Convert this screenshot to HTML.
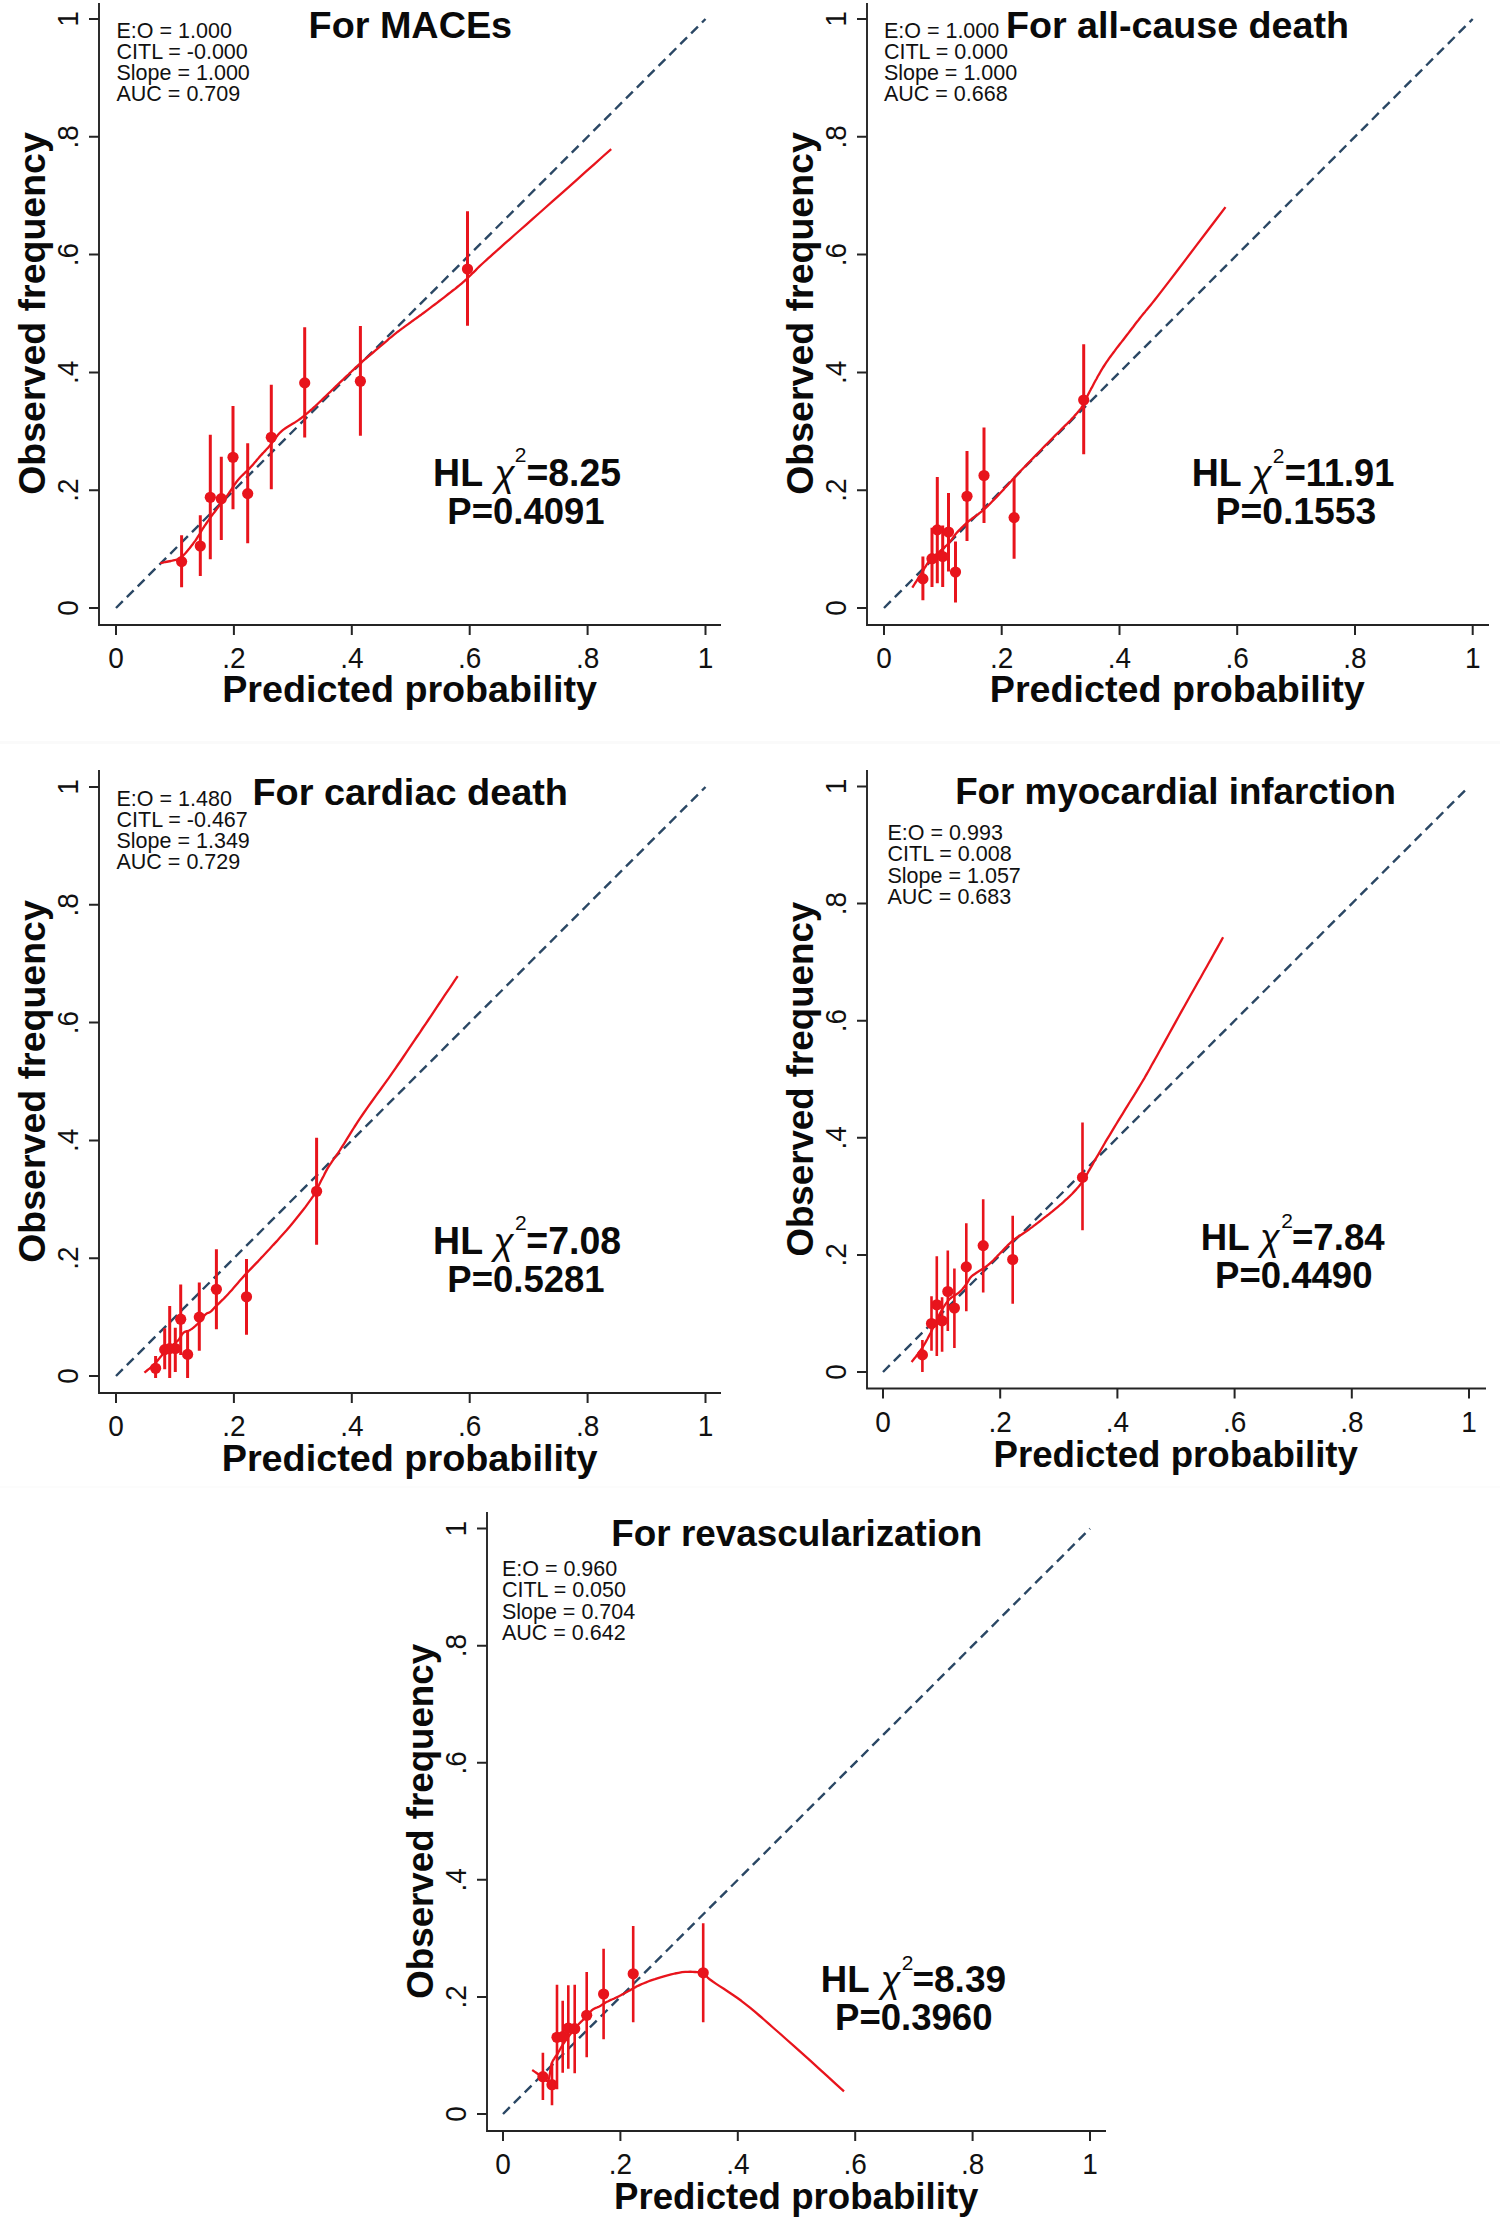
<!DOCTYPE html><html><head><meta charset="utf-8"><style>html,body{margin:0;padding:0;background:#fff;width:1500px;height:2220px;overflow:hidden}svg{display:block}</style></head><body>
<svg width="1500" height="2220" viewBox="0 0 1500 2220" font-family='"Liberation Sans", sans-serif'>
<rect width="1500" height="2220" fill="#fff"/>
<rect x="0" y="741" width="1500" height="3" fill="#fafafa"/>
<rect x="0" y="1486" width="1500" height="2" fill="#fcfcfc"/>
<g><path d="M99 3 V625 H721" fill="none" stroke="#242424" stroke-width="1.9"/><path d="M89 608H99M116 625V635M89 490.2H99M233.9 625V635M89 372.4H99M351.8 625V635M89 254.6H99M469.7 625V635M89 136.8H99M587.6 625V635M89 19H99M705.5 625V635" stroke="#242424" stroke-width="2"/><text transform="translate(116 668) scale(1 1.08)" font-size="28" text-anchor="middle" fill="#111">0</text><text transform="translate(78 608) rotate(-90) scale(1 1.08)" font-size="28" text-anchor="middle" fill="#111">0</text><text transform="translate(233.9 668) scale(1 1.08)" font-size="28" text-anchor="middle" fill="#111">.2</text><text transform="translate(78 490.2) rotate(-90) scale(1 1.08)" font-size="28" text-anchor="middle" fill="#111">.2</text><text transform="translate(351.8 668) scale(1 1.08)" font-size="28" text-anchor="middle" fill="#111">.4</text><text transform="translate(78 372.4) rotate(-90) scale(1 1.08)" font-size="28" text-anchor="middle" fill="#111">.4</text><text transform="translate(469.7 668) scale(1 1.08)" font-size="28" text-anchor="middle" fill="#111">.6</text><text transform="translate(78 254.6) rotate(-90) scale(1 1.08)" font-size="28" text-anchor="middle" fill="#111">.6</text><text transform="translate(587.6 668) scale(1 1.08)" font-size="28" text-anchor="middle" fill="#111">.8</text><text transform="translate(78 136.8) rotate(-90) scale(1 1.08)" font-size="28" text-anchor="middle" fill="#111">.8</text><text transform="translate(705.5 668) scale(1 1.08)" font-size="28" text-anchor="middle" fill="#111">1</text><text transform="translate(78 19) rotate(-90) scale(1 1.08)" font-size="28" text-anchor="middle" fill="#111">1</text><text transform="translate(44.7 313.5) rotate(-90)" font-size="37.5" font-weight="bold" text-anchor="middle" fill="#0a0a0a">Observed frequency</text><text x="222.2" y="702.4" font-size="37.6" font-weight="bold" textLength="374.8" lengthAdjust="spacingAndGlyphs" fill="#0a0a0a">Predicted probability</text><text x="308.6" y="37.6" font-size="37.4" font-weight="bold" textLength="203.5" lengthAdjust="spacingAndGlyphs" fill="#0a0a0a">For MACEs</text><text x="116.5" y="37.7" font-size="21.5" fill="#111">E:O = 1.000</text><text x="116.5" y="58.9" font-size="21.5" fill="#111">CITL = -0.000</text><text x="116.5" y="80.1" font-size="21.5" fill="#111">Slope = 1.000</text><text x="116.5" y="101.3" font-size="21.5" fill="#111">AUC = 0.709</text><line x1="116" y1="608" x2="705.5" y2="19" stroke="#2a4764" stroke-width="2.4" stroke-dasharray="9.6 5.74"/><path d="M160.3 563.1 L162.8 562.6 L165.4 562.0 L168.2 561.5 L170.9 561.0 L173.4 560.4 L175.7 559.9 L177.7 559.3 L179.3 558.7 L179.8 558.4 L180.3 558.2 L180.6 558.0 L180.9 557.7 L181.2 557.5 L181.5 557.2 L181.9 556.9 L182.3 556.5 L183.2 555.6 L184.2 554.5 L185.4 553.3 L186.5 551.9 L187.7 550.5 L188.9 549.1 L190.0 547.7 L191.1 546.3 L192.1 545.0 L193.1 543.7 L194.0 542.4 L195.0 541.1 L195.9 539.8 L196.8 538.5 L197.6 537.2 L198.4 536.0 L199.0 535.0 L199.6 534.1 L200.1 533.3 L200.6 532.4 L201.1 531.5 L201.6 530.6 L202.2 529.7 L202.8 528.7 L203.7 527.3 L204.6 525.9 L205.6 524.5 L206.6 523.0 L207.7 521.4 L208.8 519.9 L209.8 518.4 L210.9 516.9 L212.0 515.4 L213.1 513.9 L214.2 512.5 L215.3 511.0 L216.4 509.5 L217.5 508.1 L218.6 506.6 L219.7 505.2 L220.7 503.9 L221.7 502.6 L222.7 501.4 L223.7 500.1 L224.7 498.9 L225.7 497.6 L226.7 496.3 L227.7 494.9 L228.9 493.2 L230.1 491.3 L231.4 489.5 L232.6 487.5 L233.9 485.6 L235.2 483.7 L236.6 481.8 L238.0 480.0 L239.5 478.3 L241.1 476.5 L242.8 474.9 L244.5 473.2 L246.2 471.6 L247.9 470.0 L249.5 468.4 L251.0 466.8 L252.3 465.4 L253.5 464.0 L254.7 462.6 L255.9 461.2 L257.0 459.8 L258.2 458.5 L259.3 457.1 L260.5 455.8 L261.6 454.6 L262.7 453.4 L263.8 452.3 L264.9 451.1 L265.9 450.0 L267.0 448.8 L268.2 447.6 L269.3 446.3 L270.7 444.6 L272.0 442.8 L273.4 440.9 L274.8 438.9 L276.3 437.0 L277.8 435.1 L279.4 433.3 L281.1 431.6 L283.1 429.9 L285.4 428.3 L287.7 426.7 L290.2 425.2 L292.6 423.7 L294.9 422.4 L296.9 421.1 L298.7 419.9 L299.6 419.3 L300.3 418.7 L301.0 418.2 L301.7 417.7 L302.3 417.2 L303.0 416.7 L303.7 416.1 L304.5 415.5 L305.8 414.4 L307.3 413.2 L308.8 411.9 L310.3 410.5 L312.0 409.1 L313.6 407.6 L315.3 406.1 L317.0 404.5 L319.1 402.5 L321.4 400.4 L323.7 398.1 L326.1 395.8 L328.4 393.5 L330.8 391.3 L333.1 389.0 L335.3 386.9 L337.2 385.0 L339.2 383.2 L341.1 381.4 L343.0 379.6 L344.8 377.8 L346.6 376.1 L348.4 374.5 L350.0 372.9 L351.2 371.8 L352.2 370.8 L353.3 369.8 L354.3 368.9 L355.3 367.9 L356.3 366.9 L357.5 365.9 L358.7 364.8 L360.7 363.1 L362.8 361.2 L365.1 359.2 L367.5 357.2 L370.0 355.1 L372.5 353.0 L374.9 350.9 L377.3 348.9 L379.6 346.9 L382.0 344.9 L384.4 342.8 L386.8 340.8 L389.1 338.7 L391.5 336.8 L393.8 334.9 L396.0 333.1 L397.8 331.7 L399.6 330.4 L401.3 329.1 L403.0 327.9 L404.7 326.6 L406.4 325.4 L408.2 324.1 L410.0 322.8 L412.1 321.2 L414.3 319.6 L416.6 318.0 L418.9 316.3 L421.2 314.7 L423.5 313.0 L425.7 311.3 L428.0 309.6 L430.3 307.9 L432.5 306.2 L434.8 304.5 L437.0 302.8 L439.3 301.0 L441.5 299.3 L443.8 297.6 L446.0 295.8 L448.3 294.0 L450.5 292.3 L452.8 290.5 L455.1 288.8 L457.3 287.0 L459.6 285.2 L461.8 283.3 L464.0 281.4 L466.3 279.3 L468.5 277.2 L470.8 275.0 L473.0 272.8 L475.3 270.6 L477.5 268.3 L479.7 266.1 L482.0 264.0 L484.2 262.0 L486.3 260.1 L488.4 258.2 L490.5 256.3 L492.6 254.4 L494.9 252.3 L497.4 250.2 L500.0 247.8 L504.6 243.7 L509.6 239.3 L515.0 234.5 L520.7 229.5 L526.6 224.3 L532.7 218.9 L538.8 213.5 L545.0 208.0 L552.7 201.2 L560.7 194.1 L568.9 186.8 L577.3 179.3 L585.8 171.7 L594.4 164.1 L602.8 156.5 L611.2 149.1" fill="none" stroke="#e8141c" stroke-width="2.3" stroke-linejoin="round"/><path d="M181.6 535.3V587.3M200.3 515.3V576M210.3 434.7V559.3M221.3 456.7V540M233 406V509.3M247.7 443.3V543.3M271.3 384.7V489.3M304.7 327.2V437.6M360.4 326V435.7M467.5 211.3V325.8" stroke="#e8141c" stroke-width="3"/><circle cx="181.6" cy="561.6" r="5.6" fill="#e8141c"/><circle cx="200.3" cy="546" r="5.6" fill="#e8141c"/><circle cx="210.3" cy="497.3" r="5.6" fill="#e8141c"/><circle cx="221.3" cy="498.7" r="5.6" fill="#e8141c"/><circle cx="233" cy="457.3" r="5.6" fill="#e8141c"/><circle cx="247.7" cy="493.6" r="5.6" fill="#e8141c"/><circle cx="271.3" cy="437.3" r="5.6" fill="#e8141c"/><circle cx="304.7" cy="382.9" r="5.6" fill="#e8141c"/><circle cx="360.4" cy="381.2" r="5.6" fill="#e8141c"/><circle cx="467.5" cy="269" r="5.6" fill="#e8141c"/><text transform="translate(433.1 486.2) scale(1 1.03)" font-size="37.5" font-weight="bold" fill="#0a0a0a">HL</text><text x="494.6" y="486.2" font-size="37" font-style="italic" fill="#0a0a0a">&#967;</text><text x="514.8" y="462" font-size="21" fill="#0a0a0a">2</text><text transform="translate(526.5 486.2) scale(1 1.03)" font-size="37.5" font-weight="bold" textLength="94.6" lengthAdjust="spacingAndGlyphs" fill="#0a0a0a">=8.25</text><text transform="translate(447.3 523.9) scale(1 1.03)" font-size="36.5" font-weight="bold" textLength="157.3" lengthAdjust="spacingAndGlyphs" fill="#0a0a0a">P=0.4091</text></g>
<g><path d="M867 3 V625 H1489" fill="none" stroke="#242424" stroke-width="1.9"/><path d="M857 608H867M884 625V635M857 490.2H867M1001.7 625V635M857 372.4H867M1119.5 625V635M857 254.6H867M1237.2 625V635M857 136.8H867M1355 625V635M857 19H867M1472.7 625V635" stroke="#242424" stroke-width="2"/><text transform="translate(884 668) scale(1 1.08)" font-size="28" text-anchor="middle" fill="#111">0</text><text transform="translate(846 608) rotate(-90) scale(1 1.08)" font-size="28" text-anchor="middle" fill="#111">0</text><text transform="translate(1001.7 668) scale(1 1.08)" font-size="28" text-anchor="middle" fill="#111">.2</text><text transform="translate(846 490.2) rotate(-90) scale(1 1.08)" font-size="28" text-anchor="middle" fill="#111">.2</text><text transform="translate(1119.5 668) scale(1 1.08)" font-size="28" text-anchor="middle" fill="#111">.4</text><text transform="translate(846 372.4) rotate(-90) scale(1 1.08)" font-size="28" text-anchor="middle" fill="#111">.4</text><text transform="translate(1237.2 668) scale(1 1.08)" font-size="28" text-anchor="middle" fill="#111">.6</text><text transform="translate(846 254.6) rotate(-90) scale(1 1.08)" font-size="28" text-anchor="middle" fill="#111">.6</text><text transform="translate(1355 668) scale(1 1.08)" font-size="28" text-anchor="middle" fill="#111">.8</text><text transform="translate(846 136.8) rotate(-90) scale(1 1.08)" font-size="28" text-anchor="middle" fill="#111">.8</text><text transform="translate(1472.7 668) scale(1 1.08)" font-size="28" text-anchor="middle" fill="#111">1</text><text transform="translate(846 19) rotate(-90) scale(1 1.08)" font-size="28" text-anchor="middle" fill="#111">1</text><text transform="translate(812.7 313.5) rotate(-90)" font-size="37.5" font-weight="bold" text-anchor="middle" fill="#0a0a0a">Observed frequency</text><text x="989.8" y="702.4" font-size="37.6" font-weight="bold" textLength="375.0" lengthAdjust="spacingAndGlyphs" fill="#0a0a0a">Predicted probability</text><text x="1006" y="37.6" font-size="37.4" font-weight="bold" textLength="343.0" lengthAdjust="spacingAndGlyphs" fill="#0a0a0a">For all-cause death</text><text x="883.9" y="37.7" font-size="21.5" fill="#111">E:O = 1.000</text><text x="883.9" y="58.9" font-size="21.5" fill="#111">CITL = 0.000</text><text x="883.9" y="80.1" font-size="21.5" fill="#111">Slope = 1.000</text><text x="883.9" y="101.3" font-size="21.5" fill="#111">AUC = 0.668</text><line x1="884" y1="608" x2="1472.7" y2="19" stroke="#2a4764" stroke-width="2.4" stroke-dasharray="9.6 5.74"/><path d="M912.3 587.6 L913.6 585.6 L914.9 583.5 L916.3 581.4 L917.6 579.3 L918.9 577.3 L920.2 575.3 L921.4 573.3 L922.6 571.5 L923.5 570.1 L924.2 568.8 L924.9 567.5 L925.7 566.3 L926.4 565.1 L927.2 563.8 L928.1 562.5 L929.2 561.2 L931.2 559.1 L933.6 556.8 L936.2 554.4 L939.0 552.0 L941.8 549.6 L944.5 547.2 L947.0 545.0 L949.0 542.9 L950.1 541.6 L951.1 540.4 L952.0 539.1 L952.8 538.0 L953.6 536.8 L954.4 535.7 L955.3 534.5 L956.3 533.3 L957.6 531.9 L959.0 530.4 L960.5 528.9 L962.0 527.3 L963.5 525.9 L964.9 524.5 L966.2 523.3 L967.3 522.3 L967.8 521.8 L968.3 521.5 L968.7 521.1 L969.1 520.8 L969.5 520.5 L970.0 520.2 L970.4 519.8 L971.0 519.4 L972.2 518.5 L973.6 517.5 L975.1 516.4 L976.7 515.2 L978.4 514.0 L980.1 512.7 L981.8 511.3 L983.5 509.9 L985.5 508.1 L987.6 506.1 L989.8 504.0 L991.9 501.8 L994.0 499.6 L996.2 497.4 L998.3 495.1 L1000.3 493.0 L1002.2 491.0 L1004.0 489.1 L1005.7 487.1 L1007.5 485.2 L1009.2 483.2 L1011.1 481.2 L1013.0 479.1 L1015.0 476.9 L1017.8 473.9 L1020.8 470.8 L1024.0 467.5 L1027.2 464.1 L1030.5 460.7 L1033.8 457.4 L1037.0 454.1 L1040.0 451.0 L1042.6 448.3 L1045.2 445.6 L1047.8 443.0 L1050.4 440.4 L1052.9 437.9 L1055.3 435.4 L1057.7 433.0 L1060.0 430.7 L1061.8 428.9 L1063.6 427.1 L1065.3 425.4 L1067.0 423.8 L1068.7 422.1 L1070.3 420.5 L1071.8 418.9 L1073.3 417.3 L1074.5 415.9 L1075.7 414.6 L1076.9 413.3 L1078.0 412.0 L1079.0 410.8 L1080.1 409.4 L1081.1 408.1 L1082.0 406.7 L1082.9 405.3 L1083.7 403.8 L1084.5 402.3 L1085.2 400.7 L1085.9 399.2 L1086.6 397.7 L1087.3 396.2 L1088.0 394.7 L1088.7 393.4 L1089.3 392.2 L1089.9 391.0 L1090.6 389.8 L1091.2 388.6 L1091.9 387.4 L1092.6 386.1 L1093.3 384.7 L1094.3 382.8 L1095.4 380.8 L1096.6 378.7 L1097.7 376.5 L1099.0 374.4 L1100.2 372.2 L1101.4 370.1 L1102.7 368.0 L1104.0 366.0 L1105.2 364.1 L1106.5 362.2 L1107.8 360.3 L1109.1 358.4 L1110.5 356.5 L1111.9 354.6 L1113.3 352.7 L1114.9 350.6 L1116.5 348.4 L1118.2 346.2 L1119.9 344.0 L1121.6 341.9 L1123.3 339.7 L1125.0 337.5 L1126.7 335.3 L1128.4 333.1 L1130.0 331.0 L1131.7 328.8 L1133.3 326.7 L1134.9 324.5 L1136.6 322.3 L1138.3 320.2 L1140.0 318.0 L1141.7 315.9 L1143.4 313.8 L1145.0 311.9 L1146.6 309.9 L1148.4 307.8 L1150.3 305.5 L1152.4 302.9 L1154.7 300.0 L1161.0 291.9 L1168.7 281.9 L1177.4 270.5 L1186.8 258.1 L1196.6 245.1 L1206.6 232.0 L1216.3 219.2 L1225.5 207.1" fill="none" stroke="#e8141c" stroke-width="2.3" stroke-linejoin="round"/><path d="M922.9 556.5V600.3M932 527.7V587M937.3 477V583.2M942.7 525.6V587M948.5 493V571.5M955.5 541.6V602.4M967 451V541M984 427.5V523M1014.1 478.1V558.7M1083.7 344.3V454.3" stroke="#e8141c" stroke-width="3"/><circle cx="922.9" cy="578.9" r="5.6" fill="#e8141c"/><circle cx="932" cy="558.7" r="5.6" fill="#e8141c"/><circle cx="937.3" cy="529.9" r="5.6" fill="#e8141c"/><circle cx="942.7" cy="556.5" r="5.6" fill="#e8141c"/><circle cx="948.5" cy="532" r="5.6" fill="#e8141c"/><circle cx="955.5" cy="572" r="5.6" fill="#e8141c"/><circle cx="967" cy="496.3" r="5.6" fill="#e8141c"/><circle cx="984" cy="475.5" r="5.6" fill="#e8141c"/><circle cx="1014.1" cy="517.6" r="5.6" fill="#e8141c"/><circle cx="1083.7" cy="400" r="5.6" fill="#e8141c"/><text transform="translate(1191.7 486.4) scale(1 1.03)" font-size="37.5" font-weight="bold" fill="#0a0a0a">HL</text><text x="1251.6" y="486.4" font-size="37" font-style="italic" fill="#0a0a0a">&#967;</text><text x="1272.8" y="462.8" font-size="21" fill="#0a0a0a">2</text><text transform="translate(1284.7 486.4) scale(1 1.03)" font-size="37.5" font-weight="bold" textLength="109.6" lengthAdjust="spacingAndGlyphs" fill="#0a0a0a">=11.91</text><text transform="translate(1215.6 523.5) scale(1 1.03)" font-size="36.5" font-weight="bold" textLength="160.7" lengthAdjust="spacingAndGlyphs" fill="#0a0a0a">P=0.1553</text></g>
<g><path d="M99 770 V1393 H721" fill="none" stroke="#242424" stroke-width="1.9"/><path d="M89 1376H99M116 1393V1403M89 1258.2H99M233.9 1393V1403M89 1140.4H99M351.8 1393V1403M89 1022.6H99M469.7 1393V1403M89 904.8H99M587.6 1393V1403M89 787H99M705.5 1393V1403" stroke="#242424" stroke-width="2"/><text transform="translate(116 1436) scale(1 1.08)" font-size="28" text-anchor="middle" fill="#111">0</text><text transform="translate(78 1376) rotate(-90) scale(1 1.08)" font-size="28" text-anchor="middle" fill="#111">0</text><text transform="translate(233.9 1436) scale(1 1.08)" font-size="28" text-anchor="middle" fill="#111">.2</text><text transform="translate(78 1258.2) rotate(-90) scale(1 1.08)" font-size="28" text-anchor="middle" fill="#111">.2</text><text transform="translate(351.8 1436) scale(1 1.08)" font-size="28" text-anchor="middle" fill="#111">.4</text><text transform="translate(78 1140.4) rotate(-90) scale(1 1.08)" font-size="28" text-anchor="middle" fill="#111">.4</text><text transform="translate(469.7 1436) scale(1 1.08)" font-size="28" text-anchor="middle" fill="#111">.6</text><text transform="translate(78 1022.6) rotate(-90) scale(1 1.08)" font-size="28" text-anchor="middle" fill="#111">.6</text><text transform="translate(587.6 1436) scale(1 1.08)" font-size="28" text-anchor="middle" fill="#111">.8</text><text transform="translate(78 904.8) rotate(-90) scale(1 1.08)" font-size="28" text-anchor="middle" fill="#111">.8</text><text transform="translate(705.5 1436) scale(1 1.08)" font-size="28" text-anchor="middle" fill="#111">1</text><text transform="translate(78 787) rotate(-90) scale(1 1.08)" font-size="28" text-anchor="middle" fill="#111">1</text><text transform="translate(44.7 1081.5) rotate(-90)" font-size="37.5" font-weight="bold" text-anchor="middle" fill="#0a0a0a">Observed frequency</text><text x="221.7" y="1470.6" font-size="37.6" font-weight="bold" textLength="375.8" lengthAdjust="spacingAndGlyphs" fill="#0a0a0a">Predicted probability</text><text x="252.4" y="805.4" font-size="37.4" font-weight="bold" textLength="315.6" lengthAdjust="spacingAndGlyphs" fill="#0a0a0a">For cardiac death</text><text x="116.5" y="805.5" font-size="21.5" fill="#111">E:O = 1.480</text><text x="116.5" y="826.7" font-size="21.5" fill="#111">CITL = -0.467</text><text x="116.5" y="847.9" font-size="21.5" fill="#111">Slope = 1.349</text><text x="116.5" y="869.1" font-size="21.5" fill="#111">AUC = 0.729</text><line x1="116" y1="1376" x2="705.5" y2="787" stroke="#2a4764" stroke-width="2.4" stroke-dasharray="9.6 5.74"/><path d="M144.4 1372.7 L145.7 1371.6 L147.0 1370.5 L148.4 1369.4 L149.7 1368.4 L151.0 1367.3 L152.3 1366.2 L153.5 1365.0 L154.7 1363.9 L155.7 1362.8 L156.7 1361.7 L157.6 1360.6 L158.4 1359.5 L159.3 1358.4 L160.2 1357.2 L161.1 1356.2 L162.0 1355.1 L163.0 1354.1 L163.9 1353.1 L164.9 1352.2 L165.9 1351.2 L166.9 1350.3 L168.0 1349.3 L169.0 1348.4 L170.0 1347.5 L171.0 1346.6 L172.1 1345.7 L173.1 1344.9 L174.2 1344.0 L175.2 1343.1 L176.2 1342.3 L177.2 1341.3 L178.1 1340.4 L178.9 1339.4 L179.7 1338.3 L180.4 1337.2 L181.1 1336.1 L181.7 1335.0 L182.4 1333.9 L183.2 1333.0 L184.0 1332.3 L184.7 1331.9 L185.4 1331.6 L186.1 1331.3 L186.8 1331.1 L187.6 1331.0 L188.4 1330.8 L189.1 1330.5 L189.9 1330.1 L191.0 1329.4 L192.1 1328.7 L193.2 1327.8 L194.3 1326.9 L195.5 1325.9 L196.6 1324.8 L197.7 1323.8 L198.7 1322.8 L199.7 1321.7 L200.6 1320.6 L201.6 1319.3 L202.5 1318.1 L203.4 1316.9 L204.3 1315.8 L205.1 1314.8 L206.0 1314.0 L206.6 1313.6 L207.1 1313.3 L207.7 1313.0 L208.2 1312.8 L208.8 1312.6 L209.3 1312.4 L209.9 1312.1 L210.4 1311.8 L211.0 1311.4 L211.5 1310.9 L212.0 1310.4 L212.5 1309.9 L213.0 1309.3 L213.5 1308.7 L214.1 1308.1 L214.8 1307.4 L216.1 1306.1 L217.6 1304.7 L219.2 1303.1 L220.9 1301.4 L222.7 1299.7 L224.5 1297.9 L226.3 1296.0 L228.0 1294.2 L229.9 1292.1 L231.9 1289.9 L233.9 1287.6 L235.9 1285.3 L237.9 1283.0 L239.9 1280.6 L242.0 1278.2 L244.1 1275.9 L246.4 1273.4 L248.7 1271.0 L251.0 1268.6 L253.4 1266.1 L255.8 1263.6 L258.3 1261.1 L260.7 1258.4 L263.3 1255.7 L266.5 1252.3 L269.8 1248.8 L273.1 1245.1 L276.6 1241.4 L280.0 1237.6 L283.4 1233.8 L286.8 1230.0 L290.0 1226.2 L293.1 1222.4 L296.3 1218.5 L299.5 1214.5 L302.7 1210.5 L305.7 1206.6 L308.4 1202.9 L310.9 1199.4 L313.0 1196.3 L314.0 1194.7 L314.9 1193.2 L315.6 1191.8 L316.3 1190.4 L317.0 1189.1 L317.6 1187.7 L318.3 1186.3 L319.1 1184.8 L320.1 1182.8 L321.2 1180.6 L322.3 1178.4 L323.5 1176.2 L324.6 1173.9 L325.8 1171.6 L327.0 1169.4 L328.3 1167.2 L329.6 1165.1 L331.0 1163.1 L332.3 1161.1 L333.7 1159.1 L335.2 1157.1 L336.7 1155.0 L338.2 1152.8 L339.8 1150.4 L342.0 1146.9 L344.3 1143.3 L346.7 1139.4 L349.2 1135.4 L351.8 1131.2 L354.4 1127.0 L357.2 1122.7 L360.0 1118.4 L363.7 1113.0 L367.6 1107.4 L371.8 1101.5 L376.0 1095.6 L380.3 1089.7 L384.5 1083.9 L388.5 1078.3 L392.3 1072.9 L395.3 1068.6 L398.1 1064.5 L400.9 1060.5 L403.6 1056.5 L406.2 1052.6 L408.9 1048.7 L411.6 1044.7 L414.3 1040.7 L417.1 1036.5 L420.0 1032.3 L422.8 1028.0 L425.7 1023.8 L428.6 1019.5 L431.4 1015.3 L434.2 1011.1 L437.0 1006.9 L439.6 1003.0 L442.2 999.1 L444.8 995.2 L447.4 991.4 L450.0 987.6 L452.5 983.8 L455.1 979.9 L457.7 976.1" fill="none" stroke="#e8141c" stroke-width="2.3" stroke-linejoin="round"/><path d="M155.6 1356V1377.9M164.7 1328.3V1369.3M169.7 1305.9V1377.9M175.3 1327.7V1372M180.7 1284.5V1355M187.6 1330.4V1377.9M199.3 1282.4V1350.7M216.4 1249.3V1329.3M246.5 1258.9V1334.7M316.6 1137.7V1244.8" stroke="#e8141c" stroke-width="3"/><circle cx="155.6" cy="1368.3" r="5.6" fill="#e8141c"/><circle cx="164.7" cy="1349.6" r="5.6" fill="#e8141c"/><circle cx="169.7" cy="1348.5" r="5.6" fill="#e8141c"/><circle cx="175.3" cy="1348.5" r="5.6" fill="#e8141c"/><circle cx="180.7" cy="1319.2" r="5.6" fill="#e8141c"/><circle cx="187.6" cy="1354.4" r="5.6" fill="#e8141c"/><circle cx="199.3" cy="1317.1" r="5.6" fill="#e8141c"/><circle cx="216.4" cy="1289.3" r="5.6" fill="#e8141c"/><circle cx="246.5" cy="1296.8" r="5.6" fill="#e8141c"/><circle cx="316.6" cy="1191.3" r="5.6" fill="#e8141c"/><text transform="translate(433.1 1253.5) scale(1 1.03)" font-size="37.5" font-weight="bold" fill="#0a0a0a">HL</text><text x="493.6" y="1253.5" font-size="37" font-style="italic" fill="#0a0a0a">&#967;</text><text x="515" y="1230.4" font-size="21" fill="#0a0a0a">2</text><text transform="translate(526.3 1253.5) scale(1 1.03)" font-size="37.5" font-weight="bold" textLength="94.8" lengthAdjust="spacingAndGlyphs" fill="#0a0a0a">=7.08</text><text transform="translate(447.3 1291.7) scale(1 1.03)" font-size="36.5" font-weight="bold" textLength="157.3" lengthAdjust="spacingAndGlyphs" fill="#0a0a0a">P=0.5281</text></g>
<g><path d="M867 770 V1388.5 H1486" fill="none" stroke="#242424" stroke-width="1.9"/><path d="M857 1372H867M883 1388.5V1398.5M857 1254.9H867M1000.2 1388.5V1398.5M857 1137.8H867M1117.4 1388.5V1398.5M857 1020.7H867M1234.6 1388.5V1398.5M857 903.6H867M1351.8 1388.5V1398.5M857 786.5H867M1469 1388.5V1398.5" stroke="#242424" stroke-width="2"/><text transform="translate(883 1431.5) scale(1 1.08)" font-size="28" text-anchor="middle" fill="#111">0</text><text transform="translate(846 1372) rotate(-90) scale(1 1.08)" font-size="28" text-anchor="middle" fill="#111">0</text><text transform="translate(1000.2 1431.5) scale(1 1.08)" font-size="28" text-anchor="middle" fill="#111">.2</text><text transform="translate(846 1254.9) rotate(-90) scale(1 1.08)" font-size="28" text-anchor="middle" fill="#111">.2</text><text transform="translate(1117.4 1431.5) scale(1 1.08)" font-size="28" text-anchor="middle" fill="#111">.4</text><text transform="translate(846 1137.8) rotate(-90) scale(1 1.08)" font-size="28" text-anchor="middle" fill="#111">.4</text><text transform="translate(1234.6 1431.5) scale(1 1.08)" font-size="28" text-anchor="middle" fill="#111">.6</text><text transform="translate(846 1020.7) rotate(-90) scale(1 1.08)" font-size="28" text-anchor="middle" fill="#111">.6</text><text transform="translate(1351.8 1431.5) scale(1 1.08)" font-size="28" text-anchor="middle" fill="#111">.8</text><text transform="translate(846 903.6) rotate(-90) scale(1 1.08)" font-size="28" text-anchor="middle" fill="#111">.8</text><text transform="translate(1469 1431.5) scale(1 1.08)" font-size="28" text-anchor="middle" fill="#111">1</text><text transform="translate(846 786.5) rotate(-90) scale(1 1.08)" font-size="28" text-anchor="middle" fill="#111">1</text><text transform="translate(812.7 1079.2) rotate(-90)" font-size="36.7" font-weight="bold" text-anchor="middle" fill="#0a0a0a">Observed frequency</text><text x="993.5" y="1467.3" font-size="36.6" font-weight="bold" textLength="364.4" lengthAdjust="spacingAndGlyphs" fill="#0a0a0a">Predicted probability</text><text x="955.2" y="804.4" font-size="36.8" font-weight="bold" textLength="440.8" lengthAdjust="spacingAndGlyphs" fill="#0a0a0a">For myocardial infarction</text><text x="887.5" y="840.1" font-size="21.5" fill="#111">E:O = 0.993</text><text x="887.5" y="861.3" font-size="21.5" fill="#111">CITL = 0.008</text><text x="887.5" y="882.5" font-size="21.5" fill="#111">Slope = 1.057</text><text x="887.5" y="903.7" font-size="21.5" fill="#111">AUC = 0.683</text><line x1="883" y1="1372" x2="1469" y2="786.5" stroke="#2a4764" stroke-width="2.4" stroke-dasharray="9.6 5.74"/><path d="M911.6 1362.0 L912.8 1360.4 L914.1 1358.8 L915.4 1357.2 L916.6 1355.6 L917.9 1354.0 L919.1 1352.4 L920.3 1350.7 L921.5 1349.0 L922.7 1347.1 L923.9 1345.1 L925.1 1343.1 L926.2 1341.1 L927.4 1339.0 L928.5 1336.9 L929.6 1334.8 L930.7 1332.7 L931.8 1330.4 L932.9 1328.1 L934.0 1325.8 L935.1 1323.4 L936.1 1321.1 L937.2 1318.7 L938.3 1316.5 L939.5 1314.3 L940.6 1312.3 L941.7 1310.4 L942.8 1308.4 L944.0 1306.5 L945.2 1304.6 L946.4 1302.9 L947.7 1301.2 L949.0 1299.7 L950.3 1298.5 L951.7 1297.4 L953.1 1296.4 L954.5 1295.5 L956.0 1294.6 L957.4 1293.6 L958.8 1292.7 L960.0 1291.6 L961.1 1290.6 L962.1 1289.5 L963.1 1288.3 L964.0 1287.2 L964.9 1286.1 L965.7 1284.9 L966.5 1283.8 L967.3 1282.8 L967.8 1282.0 L968.2 1281.3 L968.6 1280.6 L969.0 1279.8 L969.4 1279.1 L969.8 1278.4 L970.3 1277.7 L971.0 1276.9 L972.5 1275.5 L974.4 1274.2 L976.5 1272.7 L978.8 1271.3 L981.2 1269.8 L983.6 1268.3 L985.8 1266.8 L987.9 1265.2 L989.7 1263.7 L991.4 1262.1 L993.1 1260.5 L994.7 1258.9 L996.3 1257.2 L997.8 1255.6 L999.4 1254.0 L1001.0 1252.4 L1002.5 1250.9 L1003.9 1249.4 L1005.3 1247.9 L1006.8 1246.4 L1008.2 1244.9 L1009.6 1243.5 L1011.1 1242.1 L1012.7 1240.7 L1014.3 1239.4 L1016.0 1238.2 L1017.8 1237.0 L1019.6 1235.8 L1021.3 1234.7 L1023.1 1233.5 L1024.9 1232.3 L1026.7 1231.1 L1028.5 1229.8 L1030.3 1228.4 L1032.2 1227.1 L1034.0 1225.7 L1035.8 1224.3 L1037.7 1222.9 L1039.5 1221.5 L1041.3 1220.1 L1043.1 1218.7 L1045.0 1217.2 L1046.8 1215.8 L1048.7 1214.4 L1050.5 1212.9 L1052.4 1211.4 L1054.2 1209.9 L1056.0 1208.4 L1057.9 1206.8 L1059.8 1205.2 L1061.7 1203.6 L1063.6 1201.9 L1065.4 1200.2 L1067.2 1198.6 L1069.0 1196.9 L1070.7 1195.2 L1072.2 1193.7 L1073.7 1192.1 L1075.1 1190.6 L1076.5 1189.1 L1077.9 1187.5 L1079.2 1185.9 L1080.5 1184.3 L1081.7 1182.7 L1082.8 1181.1 L1083.9 1179.5 L1084.9 1177.8 L1085.8 1176.2 L1086.8 1174.5 L1087.8 1172.7 L1088.8 1170.8 L1090.0 1168.8 L1091.9 1165.6 L1093.9 1162.0 L1096.1 1158.2 L1098.4 1154.3 L1100.7 1150.2 L1103.0 1146.2 L1105.3 1142.2 L1107.6 1138.4 L1109.8 1134.8 L1112.0 1131.2 L1114.1 1127.6 L1116.3 1124.0 L1118.5 1120.4 L1120.7 1116.8 L1122.9 1113.3 L1125.1 1109.7 L1127.3 1106.1 L1129.5 1102.5 L1131.8 1098.9 L1134.0 1095.3 L1136.3 1091.7 L1138.4 1088.1 L1140.6 1084.5 L1142.7 1081.0 L1144.6 1077.8 L1146.4 1074.6 L1148.2 1071.5 L1149.9 1068.5 L1151.6 1065.3 L1153.4 1062.1 L1155.3 1058.7 L1157.3 1055.2 L1160.0 1050.3 L1162.9 1045.1 L1165.9 1039.6 L1169.0 1034.0 L1172.1 1028.4 L1175.3 1022.6 L1178.4 1017.0 L1181.5 1011.4 L1184.7 1005.8 L1187.9 1000.0 L1191.1 994.3 L1194.4 988.5 L1197.6 982.8 L1200.8 977.2 L1203.8 971.8 L1206.7 966.7 L1208.9 962.7 L1211.1 958.9 L1213.1 955.2 L1215.1 951.6 L1217.1 948.1 L1219.1 944.5 L1221.1 940.9 L1223.1 937.3" fill="none" stroke="#e8141c" stroke-width="2.3" stroke-linejoin="round"/><path d="M922.4 1340V1372M931.5 1296.3V1350.7M936.8 1256.3V1356M942.1 1297.3V1351.7M947.8 1250.4V1331M954.4 1268.5V1348M966.3 1223.2V1311.2M983.2 1199.2V1292.5M1012.7 1215.7V1303.7M1082.5 1122.4V1230.2" stroke="#e8141c" stroke-width="2.6"/><circle cx="922.4" cy="1354.9" r="5.6" fill="#e8141c"/><circle cx="931.5" cy="1323.5" r="5.6" fill="#e8141c"/><circle cx="936.8" cy="1304.8" r="5.6" fill="#e8141c"/><circle cx="942.1" cy="1320.8" r="5.6" fill="#e8141c"/><circle cx="947.8" cy="1291.5" r="5.6" fill="#e8141c"/><circle cx="954.4" cy="1308" r="5.6" fill="#e8141c"/><circle cx="966.3" cy="1266.9" r="5.6" fill="#e8141c"/><circle cx="983.2" cy="1245.6" r="5.6" fill="#e8141c"/><circle cx="1012.7" cy="1259.5" r="5.6" fill="#e8141c"/><circle cx="1082.5" cy="1177.4" r="5.6" fill="#e8141c"/><text transform="translate(1200.8 1249.9) scale(1 1.03)" font-size="36.6" font-weight="bold" fill="#0a0a0a">HL</text><text x="1260" y="1249.9" font-size="36.1" font-style="italic" fill="#0a0a0a">&#967;</text><text x="1281.2" y="1228" font-size="21" fill="#0a0a0a">2</text><text transform="translate(1292 1249.9) scale(1 1.03)" font-size="36.6" font-weight="bold" textLength="92.6" lengthAdjust="spacingAndGlyphs" fill="#0a0a0a">=7.84</text><text transform="translate(1215.1 1287.7) scale(1 1.03)" font-size="36.5" font-weight="bold" textLength="157.4" lengthAdjust="spacingAndGlyphs" fill="#0a0a0a">P=0.4490</text></g>
<g><path d="M487 1512 V2131 H1106" fill="none" stroke="#242424" stroke-width="1.9"/><path d="M477 2114H487M503 2131V2141M477 1996.9H487M620.4 2131V2141M477 1879.8H487M737.8 2131V2141M477 1762.8H487M855.2 2131V2141M477 1645.7H487M972.6 2131V2141M477 1528.6H487M1090 2131V2141" stroke="#242424" stroke-width="2"/><text transform="translate(503 2174) scale(1 1.08)" font-size="28" text-anchor="middle" fill="#111">0</text><text transform="translate(466 2114) rotate(-90) scale(1 1.08)" font-size="28" text-anchor="middle" fill="#111">0</text><text transform="translate(620.4 2174) scale(1 1.08)" font-size="28" text-anchor="middle" fill="#111">.2</text><text transform="translate(466 1996.9) rotate(-90) scale(1 1.08)" font-size="28" text-anchor="middle" fill="#111">.2</text><text transform="translate(737.8 2174) scale(1 1.08)" font-size="28" text-anchor="middle" fill="#111">.4</text><text transform="translate(466 1879.8) rotate(-90) scale(1 1.08)" font-size="28" text-anchor="middle" fill="#111">.4</text><text transform="translate(855.2 2174) scale(1 1.08)" font-size="28" text-anchor="middle" fill="#111">.6</text><text transform="translate(466 1762.8) rotate(-90) scale(1 1.08)" font-size="28" text-anchor="middle" fill="#111">.6</text><text transform="translate(972.6 2174) scale(1 1.08)" font-size="28" text-anchor="middle" fill="#111">.8</text><text transform="translate(466 1645.7) rotate(-90) scale(1 1.08)" font-size="28" text-anchor="middle" fill="#111">.8</text><text transform="translate(1090 2174) scale(1 1.08)" font-size="28" text-anchor="middle" fill="#111">1</text><text transform="translate(466 1528.6) rotate(-90) scale(1 1.08)" font-size="28" text-anchor="middle" fill="#111">1</text><text transform="translate(432.7 1821.3) rotate(-90)" font-size="36.7" font-weight="bold" text-anchor="middle" fill="#0a0a0a">Observed frequency</text><text x="614" y="2208.7" font-size="36.6" font-weight="bold" textLength="364.5" lengthAdjust="spacingAndGlyphs" fill="#0a0a0a">Predicted probability</text><text x="611.3" y="1546" font-size="36.8" font-weight="bold" textLength="370.9" lengthAdjust="spacingAndGlyphs" fill="#0a0a0a">For revascularization</text><text x="501.9" y="1576.1" font-size="21.5" fill="#111">E:O = 0.960</text><text x="501.9" y="1597.3" font-size="21.5" fill="#111">CITL = 0.050</text><text x="501.9" y="1618.5" font-size="21.5" fill="#111">Slope = 0.704</text><text x="501.9" y="1639.7" font-size="21.5" fill="#111">AUC = 0.642</text><line x1="503" y1="2114" x2="1090" y2="1528.6" stroke="#2a4764" stroke-width="2.4" stroke-dasharray="9.6 5.74"/><path d="M532.2 2070.0 L533.5 2070.9 L534.9 2071.9 L536.2 2072.8 L537.6 2073.8 L538.9 2074.7 L540.2 2075.6 L541.4 2076.5 L542.5 2077.3 L543.2 2077.9 L543.9 2078.6 L544.6 2079.2 L545.3 2079.9 L545.9 2080.4 L546.5 2080.8 L547.1 2081.0 L547.6 2081.0 L548.4 2080.2 L549.0 2078.5 L549.5 2076.1 L549.9 2073.4 L550.3 2070.5 L550.8 2067.5 L551.3 2064.9 L552.0 2062.7 L552.6 2061.3 L553.3 2060.0 L554.1 2058.8 L554.8 2057.6 L555.6 2056.5 L556.4 2055.4 L557.2 2054.3 L557.9 2053.1 L558.5 2052.0 L559.2 2050.9 L559.8 2049.8 L560.4 2048.7 L561.0 2047.6 L561.6 2046.5 L562.3 2045.4 L563.0 2044.3 L563.9 2043.0 L564.9 2041.6 L565.9 2040.2 L566.9 2038.8 L568.0 2037.4 L569.0 2036.0 L570.1 2034.6 L571.1 2033.3 L572.0 2032.1 L572.9 2031.0 L573.8 2029.9 L574.7 2028.8 L575.6 2027.7 L576.5 2026.6 L577.5 2025.5 L578.4 2024.5 L579.3 2023.5 L580.2 2022.6 L581.1 2021.7 L582.1 2020.8 L583.0 2019.9 L583.9 2019.0 L584.8 2018.1 L585.7 2017.2 L586.5 2016.3 L587.4 2015.3 L588.1 2014.3 L588.9 2013.3 L589.7 2012.4 L590.6 2011.5 L591.4 2010.7 L592.3 2009.9 L593.2 2009.3 L594.1 2008.8 L595.0 2008.3 L595.9 2007.9 L596.9 2007.5 L597.8 2007.1 L598.8 2006.7 L599.7 2006.2 L600.6 2005.7 L601.5 2005.1 L602.4 2004.6 L603.3 2004.0 L604.1 2003.5 L605.1 2002.9 L606.0 2002.3 L607.0 2001.8 L608.3 2001.2 L609.6 2000.5 L610.9 1999.9 L612.4 1999.3 L613.8 1998.7 L615.2 1998.0 L616.6 1997.4 L618.0 1996.7 L619.4 1996.0 L620.8 1995.3 L622.1 1994.5 L623.5 1993.8 L624.9 1993.0 L626.3 1992.3 L627.6 1991.5 L629.0 1990.8 L630.4 1990.1 L631.7 1989.3 L633.0 1988.6 L634.3 1987.8 L635.7 1987.1 L637.0 1986.3 L638.5 1985.6 L640.0 1984.9 L641.9 1984.0 L643.9 1983.2 L646.0 1982.4 L648.1 1981.5 L650.3 1980.7 L652.6 1979.9 L654.9 1979.2 L657.3 1978.4 L660.5 1977.4 L663.9 1976.4 L667.5 1975.4 L671.2 1974.4 L674.9 1973.5 L678.6 1972.8 L682.0 1972.2 L685.3 1971.9 L687.8 1971.8 L690.2 1971.7 L692.7 1971.8 L695.1 1972.0 L697.3 1972.2 L699.4 1972.6 L701.4 1973.1 L703.1 1973.7 L704.1 1974.2 L704.9 1974.8 L705.6 1975.4 L706.3 1976.1 L707.0 1976.8 L707.7 1977.6 L708.6 1978.4 L709.6 1979.3 L712.4 1981.3 L715.8 1983.6 L719.6 1986.1 L723.8 1988.8 L728.2 1991.7 L732.7 1994.7 L737.1 1997.7 L741.3 2000.8 L745.8 2004.3 L750.3 2007.9 L754.8 2011.7 L759.3 2015.5 L763.9 2019.5 L768.6 2023.7 L773.5 2028.0 L778.7 2032.5 L786.0 2039.0 L793.8 2045.9 L801.9 2053.2 L810.3 2060.7 L818.7 2068.4 L827.3 2076.2 L835.7 2083.8 L844.0 2091.3" fill="none" stroke="#e8141c" stroke-width="2.3" stroke-linejoin="round"/><path d="M542.9 2052.7V2100M552 2062.7V2105.3M557 1984.7V2089.3M562.7 2000.7V2072.7M568.3 1985.3V2068.7M574.7 1984.7V2073.3M586.7 1972V2057.3M603.6 1948.7V2039.3M633.2 1926.1V2022.3M703.2 1923.3V2022.3" stroke="#e8141c" stroke-width="2.6"/><circle cx="542.9" cy="2076.7" r="5.6" fill="#e8141c"/><circle cx="552" cy="2084.7" r="5.6" fill="#e8141c"/><circle cx="557" cy="2037.3" r="5.6" fill="#e8141c"/><circle cx="562.7" cy="2036.7" r="5.6" fill="#e8141c"/><circle cx="568.3" cy="2028" r="5.6" fill="#e8141c"/><circle cx="574.7" cy="2028.7" r="5.6" fill="#e8141c"/><circle cx="586.7" cy="2015.3" r="5.6" fill="#e8141c"/><circle cx="603.6" cy="1994" r="5.6" fill="#e8141c"/><circle cx="633.2" cy="1973.8" r="5.6" fill="#e8141c"/><circle cx="703.2" cy="1972.8" r="5.6" fill="#e8141c"/><text transform="translate(820.8 1992) scale(1 1.03)" font-size="36.6" font-weight="bold" fill="#0a0a0a">HL</text><text x="880.8" y="1992" font-size="36.1" font-style="italic" fill="#0a0a0a">&#967;</text><text x="901.8" y="1970" font-size="21" fill="#0a0a0a">2</text><text transform="translate(912.4 1992) scale(1 1.03)" font-size="36.6" font-weight="bold" textLength="93.7" lengthAdjust="spacingAndGlyphs" fill="#0a0a0a">=8.39</text><text transform="translate(835.1 2029.9) scale(1 1.03)" font-size="36.5" font-weight="bold" textLength="157.4" lengthAdjust="spacingAndGlyphs" fill="#0a0a0a">P=0.3960</text></g>
</svg></body></html>
